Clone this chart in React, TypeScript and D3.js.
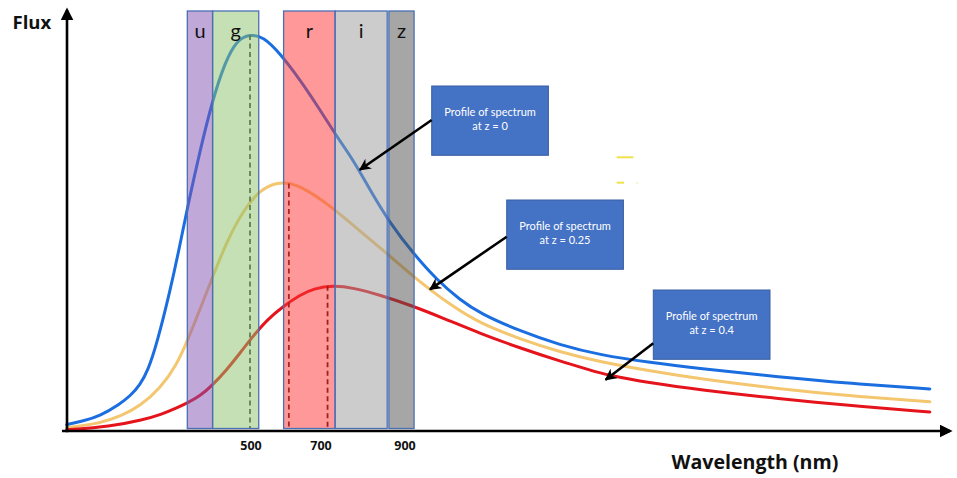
import React from "react";
import * as d3 from "d3";

// ---- Data ----
// wavelength axis ticks (nm)
const tickValues = [500, 700, 900];

// filter bands (nm)
const bandNames = ["u", "g", "r", "i", "z"];
const bandStarts = [329, 398, 596, 736, 864];
const bandEnds = [398, 525, 736, 860, 924];
const bandColors = ["#8151b1", "#8bc169", "#ff3333", "#999999", "#4d4d4d"];

// spectrum profiles: [wavelength nm, flux]
const blueZ0: [number, number][] = [
  [0, 1.6], [45, 2.5], [91, 3.75], [145, 6.75], [173, 8.75], [200, 11.5], [222, 15.25], [245, 21.5],
  [282, 35], [309, 46.5], [329, 55.75], [364, 70.25], [398, 82.75], [432, 92.25], [464, 97.75],
  [500, 99.2], [538, 98.6], [586, 94.4], [643, 87.8], [700, 80.3], [740, 73.6], [779, 67.8],
  [819, 60.3], [867, 51.9], [922, 44.4], [978, 37.8], [1033, 32.8], [1081, 29.4], [1176, 25],
  [1271, 21.5], [1367, 19], [1486, 17.1], [1605, 15.6], [1795, 13.5], [1962, 11.9], [2152, 10.5],
];
const orangeZ025: [number, number][] = [
  [0, 0.8], [91, 1.9], [150, 3.8], [200, 6.25], [254, 10.5], [300, 16.5], [329, 22.5], [364, 30.5],
  [398, 38.5], [436, 47.25], [482, 55.25], [529, 60.3], [576, 62.1], [614, 62.1], [662, 60.3],
  [716, 56.9], [764, 52.8], [811, 48.6], [859, 44.4], [914, 39.4], [962, 35.3], [1017, 31.1],
  [1081, 26.9], [1176, 23], [1271, 19.75], [1367, 17.25], [1486, 15], [1605, 13], [1795, 10.5],
  [1962, 8.75], [2152, 7.3],
];
const redZ04: [number, number][] = [
  [0, 0.3], [118, 1.1], [209, 2.8], [260, 4.2], [300, 5.75], [329, 7], [364, 8.75], [398, 11.5],
  [436, 15.25], [473, 19.5], [509, 23.75], [548, 27.75], [596, 31.25], [643, 34], [681, 35.6],
  [732, 36.4], [779, 35.8], [843, 34], [914, 31.5], [994, 28.2], [1081, 24.4], [1176, 20.75],
  [1271, 17.5], [1343, 15.25], [1383, 14], [1486, 12], [1605, 10.25], [1795, 8], [1962, 6.4],
  [2152, 4.75],
];
const curveColors = ["#1b6ee0", "#f3c66f", "#e5141c"];

// peak markers (nm, flux)
const peakWavelengths = [500, 611, 718];
const peakFluxes = [99, 61.9, 36.3];
const peakColors = ["#3a3a3a", "#5a1010", "#3a0a0a"];

// annotation labels
const annoLines1 = ["Profile of spectrum", "Profile of spectrum", "Profile of spectrum"];
const annoLines2 = ["at z = 0", "at z = 0.25", "at z = 0.4"];
const annoTargets: [number, number][] = [[795, 65.3], [962, 35.4], [1380, 12.8]];

export default function App() {
  const W = 957, H = 478;
  const x = d3.scaleLinear().domain([0, 500, 700, 900, 2200]).range([66.7, 250, 320, 404, 950]);
  const y = d3.scaleLinear().domain([0, 100]).range([431, 31]);

  const line = d3
    .line<[number, number]>()
    .x((d) => x(d[0]))
    .y((d) => y(d[1]))
    .curve(d3.curveBasis);

  const curves = [blueZ0, orangeZ025, redZ04];

  // annotation box layout
  const boxes = [
    { bx: 431.7, by: 86, ay: 34 },
    { bx: 506.7, by: 200, ay: 36.7 },
    { bx: 653.3, by: 290, ay: 53.3 },
  ];
  const bw = 116.7, bh = 69.3;

  const bandTop = y(105);
  const bandBottom = y(0) - 2.5;

  return (
    <svg width={W} height={H} style={{ position: "absolute", left: 0, top: 0, background: "#fff" }}>
      <defs>
        <marker id="ah" viewBox="0 0 10 10" refX="9" refY="5" markerWidth="4.6" markerHeight="4.6" orient="auto">
          <path d="M0,0 L10,5 L0,10 L3,5 z" fill="#000" />
        </marker>
        <marker id="axh" viewBox="0 0 10 10" refX="8" refY="5" markerWidth="5" markerHeight="5" orient="auto">
          <path d="M0,0 L10,5 L0,10 z" fill="#000" />
        </marker>
      </defs>

      {/* curves */}
      {curves.map((c, i) => (
        <path key={i} d={line(c) || ""} fill="none" stroke={curveColors[i]} strokeWidth={3} strokeLinecap="round" />
      ))}

      {/* peak dashed lines */}
      {peakWavelengths.map((w, i) => (
        <line key={i} x1={x(w)} x2={x(w)} y1={y(peakFluxes[i])} y2={bandBottom}
          stroke={peakColors[i]} strokeWidth={1.8} strokeDasharray="5,3.5" />
      ))}

      {/* filter bands */}
      {bandNames.map((b, i) => (
        <g key={b}>
          <rect x={x(bandStarts[i])} y={bandTop} width={x(bandEnds[i]) - x(bandStarts[i])}
            height={bandBottom - bandTop} fill={bandColors[i]} fillOpacity={0.5}
            stroke="#4a6fb5" strokeWidth={1.3} />
          <text x={(x(bandStarts[i]) + x(bandEnds[i])) / 2} y={bandTop + 27} textAnchor="middle"
            fontFamily="Lato, 'Open Sans', sans-serif" fontSize={20} fill="#111">{b}</text>
        </g>
      ))}

      {/* axes */}
      <line x1={62} y1={y(0)} x2={950} y2={y(0)} stroke="#000" strokeWidth={2.6} markerEnd="url(#axh)" />
      <line x1={67} y1={y(0) + 1.3} x2={67} y2={10} stroke="#000" strokeWidth={2.6} markerEnd="url(#axh)" />

      {/* tick labels */}
      {tickValues.map((t) => (
        <text key={t} x={x(t) + 1} y={449.5} textAnchor="middle" fontFamily="'Open Sans', sans-serif"
          fontWeight="bold" fontSize={12.5} fill="#111">{t}</text>
      ))}

      <text x={12.5} y={28.5} fontFamily="'Open Sans', sans-serif" fontWeight="bold" fontSize={18.5} fill="#111">Flux</text>
      <text x={671.5} y={468.5} fontFamily="'Open Sans', sans-serif" fontWeight="bold" fontSize={19.6} fill="#111">Wavelength (nm)</text>

      {/* yellow marks */}
      <line x1={616.7} x2={633.3} y1={157.3} y2={157.3} stroke="#eee24a" strokeWidth={2} />
      <line x1={616.7} x2={624} y1={182.7} y2={182.7} stroke="#eee24a" strokeWidth={2} />
      <circle cx={637} cy={183} r={0.8} fill="#f0e890" />

      {/* annotation boxes */}
      {boxes.map((b, i) => (
        <g key={i}>
          <rect x={b.bx} y={b.by} width={bw} height={bh} fill="#4472c4" stroke="#3a5f9f" strokeWidth={1} />
          <text x={b.bx + bw / 2} y={b.by + bh / 2 - 7} textAnchor="middle" dominantBaseline="middle"
            fontFamily="Lato, 'Open Sans', sans-serif" fontSize={11} fill="#fff">{annoLines1[i]}</text>
          <text x={b.bx + bw / 2} y={b.by + bh / 2 + 7} textAnchor="middle" dominantBaseline="middle"
            fontFamily="Lato, 'Open Sans', sans-serif" fontSize={11} fill="#fff">{annoLines2[i]}</text>
          <line x1={b.bx} y1={b.by + b.ay}
            x2={x(annoTargets[i][0])} y2={y(annoTargets[i][1])}
            stroke="#000" strokeWidth={2.6} markerEnd="url(#ah)" />
        </g>
      ))}
    </svg>
  );
}
